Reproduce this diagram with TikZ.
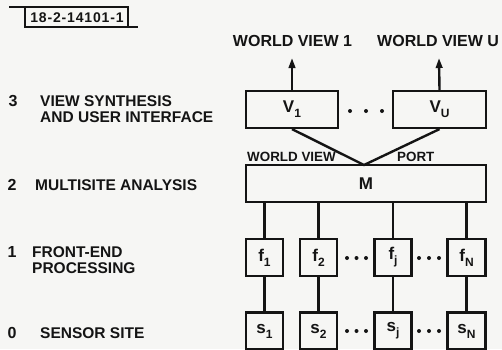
\documentclass[tikz,border=0pt]{standalone}
\usepackage{fontspec}
\setmainfont{Liberation Sans}
\usetikzlibrary{arrows.meta}
\definecolor{paper}{RGB}{246,246,244}
\definecolor{ink}{RGB}{20,20,20}
\newcommand\sbs[1]{\raisebox{-0.55ex}{\fontsize{12}{12}\selectfont #1}}
\tikzset{
  box/.style={draw=ink, line width=2.2pt, minimum height=37pt, inner sep=0pt, font=\bfseries\fontsize{17}{17}\selectfont, text=ink},
  small/.style={box, minimum width=37pt},
  conn/.style={draw=ink, line width=2.4pt},
  arr/.style={conn, -{Triangle[length=10pt,width=6.5pt]}},
  lvl/.style={anchor=west, inner sep=0pt, align=left, font=\bfseries\fontsize{15.5}{16.5}\selectfont, text=ink},
  lvlnum/.style={anchor=center, inner sep=0pt, font=\bfseries\fontsize{16}{16}\selectfont, text=ink},
  head/.style={inner sep=0pt, font=\bfseries\fontsize{16}{16}\selectfont, text=ink},
  portlab/.style={inner sep=0pt, font=\bfseries\fontsize{13.4}{13.4}\selectfont, text=ink},
  dot/.style={fill=ink, circle, inner sep=0pt, minimum size=4pt}
}
\begin{document}
\begin{tikzpicture}[x=1pt,y=-1pt]
\fill[paper] (0,0) rectangle (502,349);
\useasboundingbox (0,0) rectangle (502,349);
\clip (0,0) rectangle (502,349);
% figure tag
\node[inner sep=0pt, font=\bfseries\fontsize{14}{14}\selectfont\addfontfeature{LetterSpace=6}, text=ink] (tag) at (77,17.5) {18-2-14101-1};
\draw[ink, line width=1.5pt] (9,7) -- (128,7) -- (128,27);
\draw[ink, line width=1.5pt] (25,7) -- (25,27) -- (138,27);
% headings
\node[head] (w1) at (292.5,41) {WORLD VIEW 1};
\node[head, anchor=west] (wu) at (377,41) {WORLD VIEW U};
% level 3 boxes
\node[box, minimum width=92pt] (V1) at (292,109.5) {V\sbs{1}};
\node[box, minimum width=93pt] (VU) at (439.5,109.5) {V\sbs{U}};
\coordinate (t1) at (292,58);
\coordinate (tu) at (439,58);
\draw[arr] (V1.north) -- (t1);
\draw[arr] (VU.north) -- (tu);
\node[dot] (d1) at (350,111) {};
\node[dot] (d2) at (366,111) {};
\node[dot] (d3) at (382,111) {};
% M
\node[box, minimum width=240pt] (M) at (366,183.5) {M};
\coordinate (jn) at (364,165);
\draw[conn] (V1.south) -- (jn) -- (VU.south);
\node[portlab, anchor=base west] (wvl) at (247,161) {WORLD VIEW};
\node[portlab, anchor=base west] (pl) at (397,161) {PORT};
% f boxes
\node[small] (f1) at (264.5,257.5) {f\sbs{1}};
\node[small] (f2) at (318.5,257.5) {f\sbs{2}};
\node[small] (fj) at (393,257.5) {f\sbs{j}};
\node[small, minimum width=38pt] (fN) at (466.5,257.5) {f\sbs{N}};
% s boxes
\node[small] (s1) at (264.5,331) {s\sbs{1}};
\node[small] (s2) at (318.5,331) {s\sbs{2}};
\node[small] (sj) at (393,331) {s\sbs{j}};
\node[small, minimum width=38pt] (sN) at (466.5,331) {s\sbs{N}};
\foreach \n in {1,2,j,N}{
  \draw[conn] (f\n.north) -- (f\n.north |- M.south);
  \draw[conn] (f\n.south) -- (s\n.north);
}
\foreach \y/\p in {258/a,331/b}{
  \node[dot] (\p1) at (347,\y) {};
  \node[dot] (\p2) at (356.5,\y) {};
  \node[dot] (\p3) at (366,\y) {};
  \node[dot] (\p4) at (419,\y) {};
  \node[dot] (\p5) at (429,\y) {};
  \node[dot] (\p6) at (439,\y) {};
}
% level labels
\node[lvlnum] (n3) at (13,101) {3};
\node[lvl] (l3) at (40,109) {VIEW SYNTHESIS\\AND USER INTERFACE};
\node[lvlnum] (n2) at (12,185) {2};
\node[lvl] (l2) at (35,185) {MULTISITE ANALYSIS};
\node[lvlnum] (n1) at (12,252) {1};
\node[lvl] (l1) at (32,260) {FRONT-END\\PROCESSING};
\node[lvlnum] (n0) at (12,333) {0};
\node[lvl] (l0) at (40,333) {SENSOR SITE};
\end{tikzpicture}
\end{document}
